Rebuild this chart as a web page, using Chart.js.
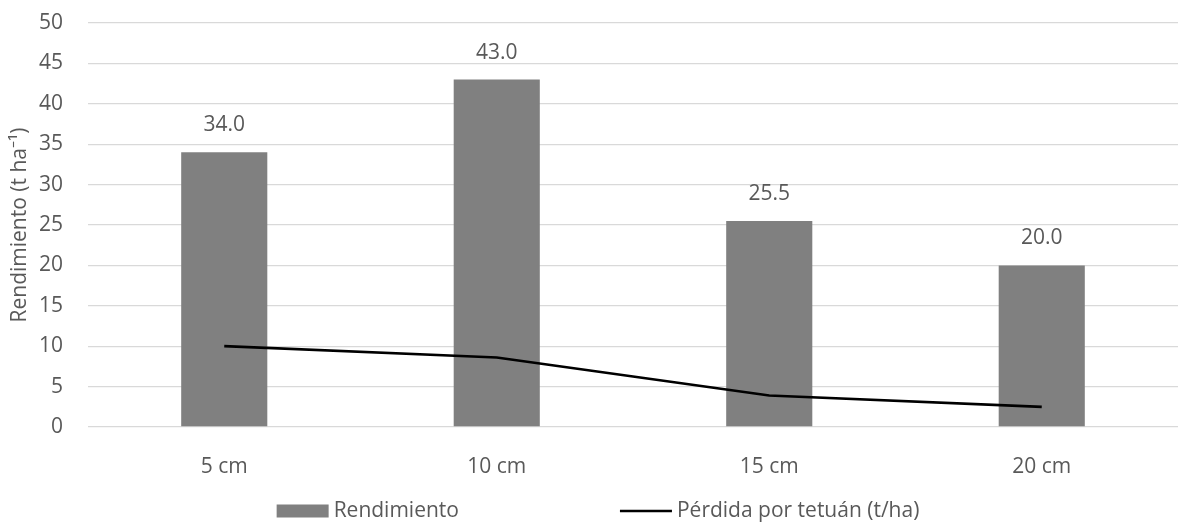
<!DOCTYPE html>
<html>
<head>
<meta charset="utf-8">
<script src="https://cdn.jsdelivr.net/npm/chart.js@4.4.1/dist/chart.umd.min.js"></script>
<style>
  html, body { margin: 0; padding: 0; background: #fff; }
  #wrap { width: 1196px; height: 524px; }
</style>
</head>
<body>
<div id="wrap"><canvas id="combo-chart" width="1196" height="524"></canvas></div>
<script>
var categorias = ["5 cm", "10 cm", "15 cm", "20 cm"];
var rendimiento = [34.0, 43.0, 25.5, 20.0];
var perdidaTetuan = [10.0, 8.6, 3.9, 2.5];
var yTicks = [0, 5, 10, 15, 20, 25, 30, 35, 40, 45, 50];

var textColor = "#595959";
var fontFam = "'Open Sans', 'Liberation Sans', sans-serif";

Chart.defaults.font.family = fontFam;
Chart.defaults.font.size = 21;
Chart.defaults.color = textColor;

// numbers above bars
var barLabels = {
    id: 'barLabels',
    afterDatasetsDraw: function (chart) {
        var ctx = chart.ctx;
        var meta = chart.getDatasetMeta(0);
        ctx.save();
        ctx.font = "21px " + fontFam;
        ctx.fillStyle = textColor;
        ctx.textAlign = "center";
        ctx.textBaseline = "middle";
        meta.data.forEach(function (bar, i) {
            ctx.fillText(rendimiento[i].toFixed(1), bar.x, bar.y - 27);
        });
        ctx.restore();
    }
};

// legend like excel (box for bars, line for the line)
var excelLegend = {
    id: 'excelLegend',
    afterDraw: function (chart) {
        var ctx = chart.ctx;
        var ds = chart.data.datasets;
        var sample = 52, gapTxt = 5, gapItem = 161;
        ctx.save();
        ctx.font = "21px " + fontFam;
        var widths = ds.map(function (d) { return sample + gapTxt + ctx.measureText(d.label).width; });
        var total = widths.reduce(function (a, b) { return a + b; }, 0) + gapItem * (ds.length - 1);
        var x = (chart.width - total) / 2;
        var y = 511;
        ds.forEach(function (d, i) {
            if (d.type === 'line') {
                ctx.strokeStyle = d.borderColor;
                ctx.lineWidth = d.borderWidth;
                ctx.beginPath();
                ctx.moveTo(x, y);
                ctx.lineTo(x + sample, y);
                ctx.stroke();
            } else {
                ctx.fillStyle = d.backgroundColor;
                ctx.fillRect(x, y - 6.5, sample, 13);
            }
            ctx.fillStyle = textColor;
            ctx.textAlign = "left";
            ctx.textBaseline = "middle";
            ctx.fillText(d.label, x + sample + gapTxt, y);
            x += widths[i] + gapItem;
        });
        ctx.restore();
    }
};

new Chart(document.getElementById("combo-chart"), {
    type: 'bar',
    data: {
        labels: categorias,
        datasets: [
            {
                type: 'bar',
                label: 'Rendimiento',
                data: rendimiento,
                backgroundColor: "#808080",
                borderWidth: 0,
                barPercentage: 0.316,
                categoryPercentage: 1.0,
                order: 2
            },
            {
                type: 'line',
                label: 'Pérdida por tetuán (t/ha)',
                data: perdidaTetuan,
                borderColor: "#000000",
                backgroundColor: "#000000",
                borderWidth: 2.7,
                pointRadius: 0,
                tension: 0,
                fill: false,
                order: 1
            }
        ]
    },
    options: {
        responsive: false,
        animation: false,
        layout: { padding: { top: 23, right: 18, bottom: 0, left: 0 } },
        plugins: {
            legend: { display: false },
            tooltip: { enabled: false }
        },
        scales: {
            x: {
                grid: { display: false },
                border: { display: false },
                ticks: { padding: 19, color: textColor, maxRotation: 0 },
                afterFit: function (s) { s.height = 97; }
            },
            y: {
                min: 0,
                max: 50,
                afterBuildTicks: function (s) {
                    s.ticks = yTicks.map(function (v) { return { value: v }; });
                },
                grid: { color: "#d9d9d9", lineWidth: 1.3, drawTicks: false },
                border: { display: false },
                ticks: { padding: 25, color: textColor },
                title: {
                    display: true,
                    text: 'Rendimiento (t ha⁻¹)',
                    color: textColor,
                    padding: { top: 7, bottom: 0 }
                },
                afterFit: function (s) {
                    s.width = 88;
                    s.paddingTop = 0;
                    s.paddingBottom = 0;
                }
            }
        }
    },
    plugins: [barLabels, excelLegend]
});
</script>
</body>
</html>
